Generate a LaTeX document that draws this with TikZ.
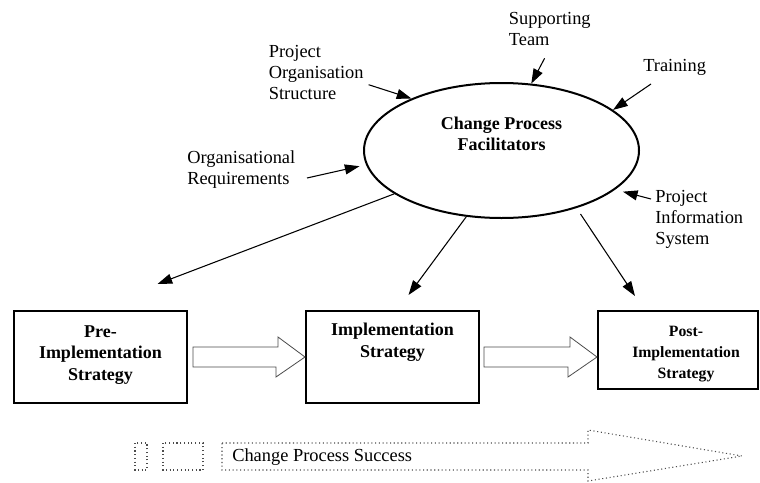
\documentclass[tikz,border=0pt]{standalone}
\usepackage{fontspec}
\setmainfont{Liberation Serif}
\usetikzlibrary{arrows.meta,positioning,shapes,calc}

\tikzset{
  stage/.style={draw, line width=1.5pt, rectangle, inner sep=0pt,
    minimum width=129.75pt, minimum height=69pt},
  stagetext/.style={align=center, inner sep=0pt,
    font=\fontsize{13.5}{16}\selectfont\bfseries},
  facil/.style={draw, line width=1.5pt, ellipse, inner sep=0pt,
    minimum width=206.25pt, minimum height=101.25pt},
  factor/.style={align=left, inner sep=0pt, anchor=north west,
    font=\fontsize{13.8}{15.75}\selectfont},
  feed/.style={line width=0.8pt, -{Triangle[length=11pt,width=7.5pt]}},
  push/.style={draw=black!70, line width=0.6pt, fill=white},
  success/.style={draw=black!70, line width=0.8pt, dotted},
}

\begin{document}
\begin{tikzpicture}[x=0.75pt,y=-0.75pt]
    \useasboundingbox (0,0) rectangle (760,482);

    % facilitators and the factors feeding them
    \node[facil] (cpf) at (501.5,150.5) {};
    \node[align=center, font=\fontsize{13.5}{16}\selectfont\bfseries] (cpftitle)
      at (501.5,134) {Change Process\\Facilitators};

    \node[factor] (sup) at (508.6,12.3) {Supporting\\Team};
    \node[factor] (pos) at (268.6,44.7) {Project\\Organisation\\Structure};
    \node[factor] (trn) at (643,59) {Training};
    \node[factor] (orq) at (187,150) {Organisational\\Requirements};
    \node[factor] (pis) at (655,190) {Project\\Information\\System};

    \draw[feed] ($(sup.north west)+(36,46)$) -- (cpf.66);
    \draw[feed] ($(pos.north west)+(100,40)$) -- (cpf.150);
    \draw[feed] ($(trn.north west)+(8,25)$) -- (cpf.20);
    \draw[feed, shorten >=5pt] ($(orq.north west)+(120,28)$) -- (cpf.186);
    \draw[feed, shorten >=6pt] ($(pis.north west)+(-4,9)$) -- (cpf.341);

    % the three strategies
    \node[stage] (pre) at (100.5,357) {};
    \node[stage] (impl) at (392.5,357) {};
    \node[stage, minimum width=120pt, minimum height=58.5pt] (post) at (678,350) {};
    \node[stagetext] (pretext) at ($(pre.center)+(0,-2)$) {Pre-\\Implementation\\Strategy};
    \node[stagetext, anchor=north] (impltext) at ($(impl.north)+(0,13)$) {Implementation\\Strategy};
    \node[stagetext, font=\fontsize{11.8}{16}\selectfont\bfseries] (posttext)
      at ($(post.center)+(8,4)$) {Post-\\Implementation\\Strategy};

    \draw[feed] (cpf.202) -- ($(pre.north)+(57,-26)$);
    \draw[feed] (cpf.242) -- ($(impl.north)+(16,-15)$);
    \draw[feed] ($(cpf.south)+(79,-5)$) -- ($(post.north)+(-43,-14)$);

    % block arrows between stages
    \draw[push] ($(pre.east)+(5,-10)$) -- ++(85,0) -- ++(0,-10) -- (impl.west)
      -- ($(impl.west)+(-29,20)$) -- ++(0,-10) -- ($(pre.east)+(5,10)$) -- cycle;
    \draw[push] ($(impl.east)+(4,-10)$) -- ++(86,0) -- ++(0,-10) -- ($(post.west)+(0,7)$)
      -- ($(post.west)+(-29,27)$) -- ++(0,-10) -- ($(impl.east)+(4,10)$) -- cycle;

    % dotted success arrow
    \draw[success] (135,443) rectangle (147,470);
    \draw[success] (163,443) rectangle (203,470);
    \draw[success] (222,443) -- (588,443) -- (588,430) -- (742,456)
      -- (588,481) -- (588,470) -- (222,470) -- cycle;
    \node[anchor=west, inner sep=0pt, font=\fontsize{13.8}{15.75}\selectfont] (cps)
      at (232,457) {Change Process Success};
\end{tikzpicture}
\end{document}
